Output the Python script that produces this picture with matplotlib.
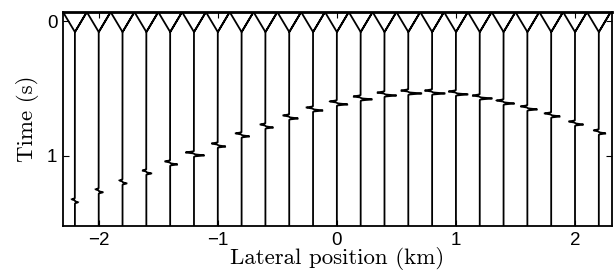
import numpy as np
import matplotlib
matplotlib.use('Agg')
import matplotlib.pyplot as plt

# trace positions (km) and picked arrival of the diffraction (s)
trace_x = [-2.2, -2.0, -1.8, -1.6, -1.4, -1.2, -1.0, -0.8, -0.6, -0.4, -0.2, 0.0,
           0.2, 0.4, 0.6, 0.8, 1.0, 1.2, 1.4, 1.6, 1.8, 2.0, 2.2]
arrival_t = [1.333, 1.259, 1.193, 1.119, 1.052, 0.985, 0.919, 0.844, 0.778, 0.711, 0.652, 0.607,
             0.570, 0.541, 0.526, 0.526, 0.533, 0.563, 0.600, 0.644, 0.696, 0.756, 0.822]
# lobe amplitudes (km of deflection)
amp_pos = [0.025, 0.034, 0.034, 0.042, 0.063, 0.088, 0.067, 0.067, 0.067, 0.076, 0.084, 0.092,
           0.097, 0.101, 0.113, 0.109, 0.101, 0.105, 0.092, 0.084, 0.076, 0.071, 0.059]
amp_neg = [0.025, 0.025, 0.025, 0.034, 0.042, 0.071, 0.050, 0.050, 0.042, 0.050, 0.055, 0.059,
           0.063, 0.063, 0.063, 0.063, 0.063, 0.063, 0.059, 0.055, 0.055, 0.050, 0.042]

t_top, t_bot = -0.067, 1.52
t_direct = 0.081   # apex of the direct-arrival V
half_w = 0.1       # half trace spacing

fig = plt.figure(figsize=(6.14, 2.74), dpi=100)
ax = fig.add_axes([0.1026, 0.1752, 0.894, 0.781])

t = np.arange(t_direct, t_bot + 0.01, 0.0005)
for x0, ta, ap, an in zip(trace_x, arrival_t, amp_pos, amp_neg):
    tau = t - ta
    w = -an * np.exp(-((tau + 0.011) / 0.005) ** 2) + ap * np.exp(-((tau - 0.011) / 0.005) ** 2)
    # direct arrival (clipped V at the top), then the trace itself
    xs = np.concatenate([[x0 - half_w, x0, x0 + half_w, x0], x0 + w])
    ts = np.concatenate([[t_top, t_direct, t_top, t_direct], t])
    ax.plot(xs, ts, color='black', lw=1.3, solid_joinstyle='miter')

ax.set_xlim(-2.3, 2.31)
ax.set_ylim(t_bot, t_top)
ax.set_xticks([-2, -1, 0, 1, 2])
ax.set_yticks([0, 1])
ax.tick_params(direction='in', length=4, top=True, right=True, labelsize=13.5, pad=4)
for lbl in ax.get_xticklabels() + ax.get_yticklabels():
    lbl.set_family('Liberation Sans')
for side in ['left', 'right', 'bottom']:
    ax.spines[side].set_linewidth(1.3)
ax.spines['top'].set_linewidth(2.0)

ax.set_xlabel('Lateral position (km)', fontfamily='cmr10', fontsize=16.5, labelpad=-1)
ax.set_ylabel('Time (s)', fontfamily='cmr10', fontsize=16.5, labelpad=6)

fig.savefig('out.png', dpi=100)
